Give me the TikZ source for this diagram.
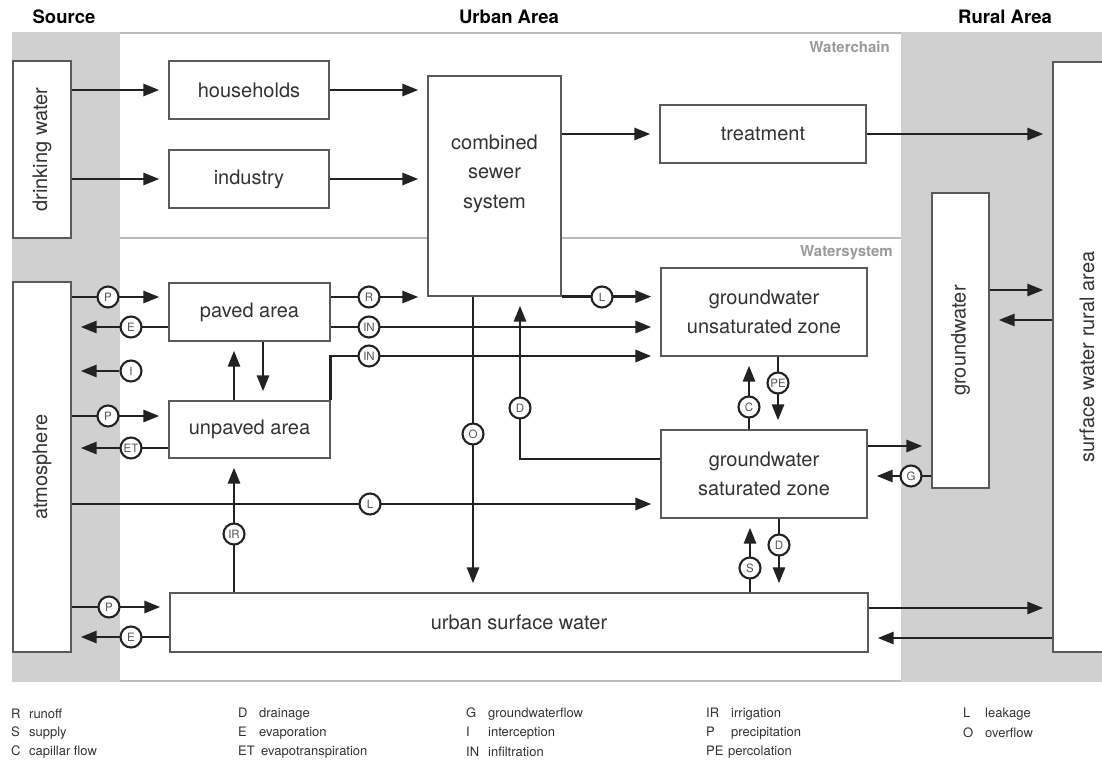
\documentclass[tikz,border=0pt]{standalone}
\usepackage{fontspec}
\setmainfont{TeX Gyre Heros}
\usetikzlibrary{arrows.meta}
\pgfdeclarelayer{fg}
\pgfsetlayers{main,fg}

\definecolor{band}{HTML}{D0D0D0}
\definecolor{rim}{HTML}{BBBBBB}
\definecolor{boxline}{HTML}{5A5A5A}
\definecolor{ink}{HTML}{222222}
\definecolor{txt}{HTML}{333333}
\definecolor{tagtxt}{HTML}{555555}
\definecolor{zonetxt}{HTML}{9A9A9A}

\tikzset{
  box/.style={draw=boxline, line width=1.3pt, fill=white, text=txt,
    font=\fontsize{20}{29}\selectfont, align=center, inner sep=0pt},
  boxtext/.style={text=txt, font=\fontsize{20}{29.5}\selectfont, align=center, inner sep=0pt},
  flow/.style={draw=ink, line width=2.8pt, -{Triangle[length=16pt,width=12pt]}, shorten >=9pt},
  lbl/.style={circle, draw=ink, line width=2.1pt, fill=white, minimum size=21pt,
    inner sep=0pt, text=tagtxt, font=\fontsize{11.5}{11.5}\selectfont},
  head/.style={font=\bfseries\fontsize{18.5}{20}\selectfont},
  zone/.style={text=zonetxt, font=\bfseries\fontsize{15}{16}\selectfont, anchor=east, inner sep=0pt},
  leg/.style={anchor=west, text=txt, font=\fontsize{13}{14}\selectfont, inner sep=0pt},
}

\begin{document}
\begin{tikzpicture}[x=1pt, y=-1pt]
\useasboundingbox (0,0) rectangle (1102,767);
\fill[white] (0,0) rectangle (1102,767);

% source / rural band and the urban area
\fill[band] (12,32) rectangle (1102,682);
\fill[white] (120,33) rectangle (901,681);
\draw[rim, line width=1.6pt] (120,33) -- (901,33);
\draw[rim, line width=1.6pt] (120,681) -- (901,681);
\draw[rim, line width=2pt] (120,238) -- (901,238);

% headers
\node[head] (hsrc) at (64,17) {Source};
\node[head] (hurb) at (509,17) {Urban Area};
\node[head] (hrur) at (1005,17) {Rural Area};
\node[zone] (wchain) at (890,47) {Waterchain};
\node[zone] (wsys) at (893,253) {Watersystem};

% boxes
\node[box, minimum width=58pt, minimum height=177pt] (dw) at (42,149.5) {\rotatebox{90}{drinking water}};
\node[box, minimum width=58pt, minimum height=370pt] (atmos) at (42,467) {\rotatebox{90}{atmosphere}};
\node[box, minimum width=160pt, minimum height=58pt] (hh) at (249,90) {households};
\node[box, minimum width=160pt, minimum height=58pt] (ind) at (249,179) {industry};
\node[box, minimum width=133pt, minimum height=220pt] (sewer) at (494.5,186) {};
\node[boxtext] (sewertxt) at (494.5,173.5) {combined\\sewer\\system};
\node[box, minimum width=206pt, minimum height=58pt] (treat) at (763,134) {treatment};
\node[box, minimum width=161pt, minimum height=58pt] (paved) at (249.5,312) {paved area};
\node[box, minimum width=161pt, minimum height=57pt] (unpaved) at (249.5,429.5) {unpaved area};
\node[box, minimum width=206pt, minimum height=88pt] (unsat) at (764,312) {groundwater\\unsaturated zone};
\node[box, minimum width=206pt, minimum height=88pt] (sat) at (764,474) {groundwater\\saturated zone};
\node[box, minimum width=698pt, minimum height=59pt] (usw) at (519,622.5) {urban surface water};
\node[box, minimum width=57pt, minimum height=295pt] (gw) at (960.5,340.5) {\rotatebox{90}{groundwater}};
\begin{scope}
  \clip (0,0) rectangle (1102,767);
  \node[box, minimum width=68pt, minimum height=590pt] (rural) at (1087,357) {\rotatebox{90}{surface water rural area}};
\end{scope}

% flow tags
\begin{pgfonlayer}{fg}
\node[lbl] (p1) at (108,297) {P};
\node[lbl] (e1) at (131,327) {E};
\node[lbl] (i1) at (131,371) {I};
\node[lbl] (p2) at (108,416) {P};
\node[lbl] (et) at (131,448) {ET};
\node[lbl] (p3) at (109,607) {P};
\node[lbl] (e3) at (131,637) {E};
\node[lbl] (r)  at (369,297) {R};
\node[lbl] (in1) at (369,327) {IN};
\node[lbl] (in2) at (369,356) {IN};
\node[lbl] (l1) at (602,297) {L};
\node[lbl] (o)  at (473,434) {O};
\node[lbl] (d1) at (520,408) {D};
\node[lbl] (c)  at (749,407) {C};
\node[lbl] (pe) at (778,383) {PE};
\node[lbl] (l2) at (370,504) {L};
\node[lbl] (ir) at (234,534) {IR};
\node[lbl] (s)  at (750,568) {S};
\node[lbl] (d2) at (779,545) {D};
\node[lbl] (g)  at (911,476) {G};
\end{pgfonlayer}

% water chain
\draw[flow] (dw.east |- hh.west) -- (hh.west);
\draw[flow] (dw.east |- ind.west) -- (ind.west);
\draw[flow] (hh.east) -- (hh.east -| sewer.west);
\draw[flow] (ind.east) -- (ind.east -| sewer.west);
\draw[flow] (sewer.east |- treat.west) -- (treat.west);
\draw[flow] (treat.east) -- (treat.east -| rural.west);

% atmosphere exchanges
\draw[flow] (atmos.east |- p1) -- (paved.west |- p1);
\draw[flow] (paved.west |- e1) -- (atmos.east |- e1);
\draw[flow] (i1) -- (atmos.east |- i1);
\draw[flow] (atmos.east |- p2) -- (unpaved.west |- p2);
\draw[flow] (unpaved.west |- et) -- (atmos.east |- et);
\draw[flow] (atmos.east |- p3) -- (usw.west |- p3);
\draw[flow] (usw.west |- e3) -- (atmos.east |- e3);
\draw[flow] (atmos.east |- l2) -- (sat.west |- l2);

% surfaces
\draw[flow] ([xshift=-15.5pt]unpaved.north) -- ([xshift=-15.5pt]paved.south);
\draw[flow] ([xshift=13.5pt]paved.south) -- ([xshift=13.5pt]unpaved.north);
\draw[flow] (paved.east |- r) -- (sewer.west |- r);
\draw[flow] (paved.east |- in1) -- (unsat.west |- in1);
\draw[flow] (unpaved.north east) |- (unsat.west |- in2);
\draw[flow] (ir |- usw.north) -- (ir |- unpaved.south);

% sewer and groundwater
\draw[flow] (sewer.south east) -- (unsat.west |- sewer.south east);
\draw[flow] (o |- sewer.south) -- (o |- usw.north);
\draw[flow] (sat.west |- 0,459) -| (d1 |- sewer.south);
\draw[flow] (c |- sat.north) -- (c |- unsat.south);
\draw[flow] (pe |- unsat.south) -- (pe |- sat.north);
\draw[flow] (s |- usw.north) -- (s |- sat.south);
\draw[flow] (d2 |- sat.south) -- (d2 |- usw.north);

% rural exchanges
\draw[flow] (sat.east |- 0,446) -- (gw.west |- 0,446);
\draw[flow] (gw.west |- g) -- (sat.east |- g);
\draw[flow] (gw.east |- 0,290) -- (rural.west |- 0,290);
\draw[flow] (rural.west |- 0,320) -- (gw.east |- 0,320);
\draw[flow] (usw.east |- 0,608) -- (rural.west |- 0,608);
\draw[flow] (rural.west |- 0,638) -- (usw.east |- 0,638);

% legend
\node[leg] (lgR)  at (11,714)  {\makebox[18pt][l]{R}runoff};
\node[leg] (lgS)  at (11,733)  {\makebox[18pt][l]{S}supply};
\node[leg] (lgC)  at (11,752)  {\makebox[18pt][l]{C}capillar flow};
\node[leg] (lgD)  at (238,714) {\makebox[21pt][l]{D}drainage};
\node[leg] (lgE)  at (238,733) {\makebox[21pt][l]{E}evaporation};
\node[leg] (lgET) at (238,752) {\makebox[21pt][l]{ET}\hspace{2pt}evapotranspiration};
\node[leg] (lgG)  at (466,714) {\makebox[22pt][l]{G}groundwaterflow};
\node[leg] (lgI)  at (466,733) {\makebox[22pt][l]{I}interception};
\node[leg] (lgIN) at (466,752) {\makebox[22pt][l]{IN}infiltration};
\node[leg] (lgIR) at (706,714) {\makebox[25pt][l]{IR}irrigation};
\node[leg] (lgP)  at (706,733) {\makebox[25pt][l]{P}precipitation};
\node[leg] (lgPE) at (706,752) {\makebox[22pt][l]{PE}percolation};
\node[leg] (lgL)  at (963,714) {\makebox[22pt][l]{L}leakage};
\node[leg] (lgO)  at (963,733) {\makebox[22pt][l]{O}overflow};
\end{tikzpicture}
\end{document}
